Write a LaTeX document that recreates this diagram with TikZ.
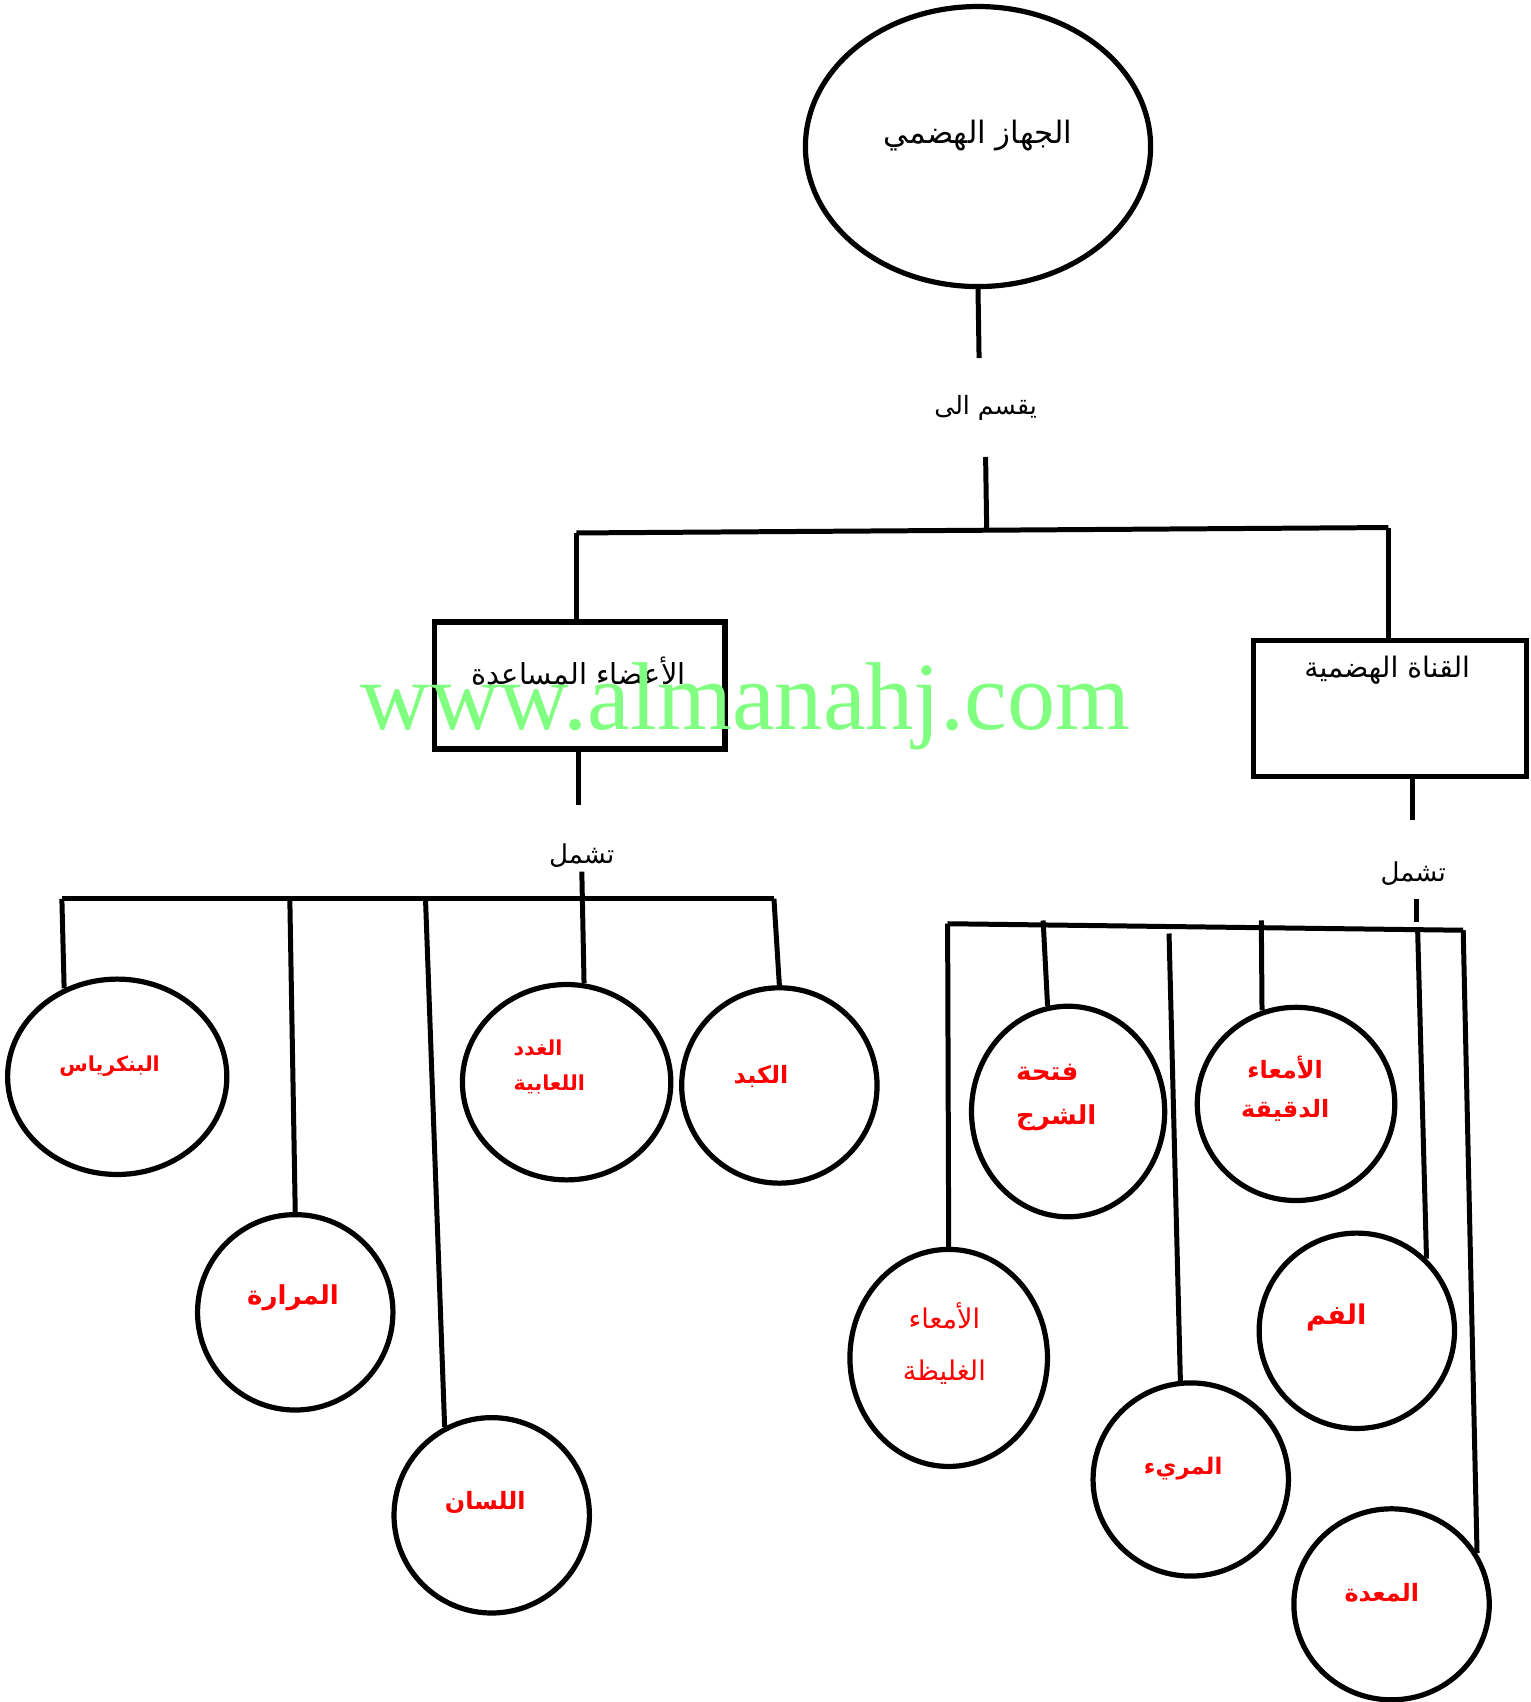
\documentclass[tikz,border=0pt]{standalone}
\usepackage{fontspec}
\setmainfont{Liberation Serif}
\newfontfamily\arabicfont[Script=Arabic]{DejaVu Sans}
\TeXXeTstate=1
\usetikzlibrary{shapes.geometric}
\definecolor{wmgreen}{RGB}{128,255,128}
\definecolor{lblred}{RGB}{255,0,0}
\newcommand{\artxt}[1]{\beginR #1\endR}
\begin{document}
\begin{tikzpicture}[x=0.5pt,y=-0.5pt,
  conn/.style={line width=2.3pt},
  organ/.style={ellipse, draw, line width=2.4pt, inner sep=0pt},
  boxstyle/.style={rectangle, draw, line width=2.4pt, inner sep=0pt},
  blacktxt/.style={font=\arabicfont\fontsize{12.5}{16}\selectfont, inner sep=0pt},
  redbig/.style={text=lblred, align=center, inner sep=0pt, font=\arabicfont\bfseries\fontsize{12}{20}\selectfont},
  redsmall/.style={text=lblred, align=center, inner sep=0pt, font=\arabicfont\bfseries\fontsize{9.5}{16}\selectfont},
  redreg/.style={text=lblred, align=center, inner sep=0pt, font=\arabicfont\fontsize{12.5}{24}\selectfont}
]
\useasboundingbox (0,0) rectangle (1410,1568);

% root
\node[organ, minimum width=159pt, minimum height=129pt] (root) at (901,135) {};
\node[blacktxt, font=\arabicfont\fontsize{14.2}{16}\selectfont] (roott) at (901,125) {\artxt{الجهاز الهضمي}};
\coordinate (r1) at (902,330);
\draw[conn] (root.south) -- (r1);
\node[blacktxt, font=\arabicfont\fontsize{11.6}{16}\selectfont] (div) at (908,376) {\artxt{يقسم الى}};
\coordinate (r2) at (908,421);
\coordinate (r3) at (909,487);
\draw[conn] (r2) -- (r3);
\coordinate (bl) at (531,491);
\coordinate (br) at (1279,486);
\draw[conn] (bl) -- (br);

% boxes
\node[boxstyle, minimum width=134pt, minimum height=58.5pt] (acc) at (534,631.5) {};
\node[blacktxt, font=\arabicfont\fontsize{13.3}{16}\selectfont] (acct) at (533,618) {\artxt{الأعضاء المساعدة}};
\node[boxstyle, minimum width=125.5pt, minimum height=62.5pt] (can) at (1280.5,652.5) {};
\node[blacktxt, font=\arabicfont\fontsize{13}{16}\selectfont] (cant) at (1278,617) {\artxt{القناة الهضمية}};
\draw[conn] (bl) -- (acc.north -| bl);
\draw[conn] (br) -- (can.north -| br);

% left branch
\coordinate (a1) at (533,742);
\draw[conn] (acc.south -| a1) -- (a1);
\node[blacktxt, font=\arabicfont\fontsize{12}{16}\selectfont] (inc1) at (536,788) {\artxt{تشمل}};
\coordinate (la) at (57,828);
\coordinate (lb) at (267,828);
\coordinate (lc) at (392,828);
\coordinate (ld) at (536,803);
\coordinate (le) at (713,828);
\draw[conn] (la) -- (le);

\node[organ, minimum width=101pt, minimum height=90pt] (pan) at (108,992) {};
\node[organ, minimum width=90pt, minimum height=90pt] (mar) at (272,1209) {};
\node[organ, minimum width=90pt, minimum height=90pt] (lis) at (453,1396) {};
\node[organ, minimum width=96pt, minimum height=90pt] (ghd) at (522,997) {};
\node[organ, minimum width=90pt, minimum height=90pt] (kbd) at (718,1000) {};

\draw[conn] (la) -- (pan.121);
\draw[conn] (lb) -- (mar.north);
\draw[conn] (lc) -- (lis.118);
\draw[conn] (ld) -- (ghd.80);
\draw[conn] (le) -- (kbd.north);

\node[redsmall] (pant) at (101,982) {\artxt{البنكرياس}};
\node[redbig] (mart) at (270,1196) {\artxt{المرارة}};
\node[redbig, font=\arabicfont\bfseries\fontsize{11}{20}\selectfont] (list) at (447,1384) {\artxt{اللسان}};
\node[redsmall, align=left] (ghdt) at (506,983) {\artxt{الغدد}\\\artxt{اللعابية}};
\node[redbig, font=\arabicfont\bfseries\fontsize{11}{20}\selectfont] (kbdt) at (701,992) {\artxt{الكبد}};

% right branch
\coordinate (b1) at (1301,755);
\draw[conn] (can.south -| b1) -- (b1);
\node[blacktxt, font=\arabicfont\fontsize{12}{16}\selectfont] (inc2) at (1302,805) {\artxt{تشمل}};
\coordinate (s1) at (1305,828);
\coordinate (s2) at (1305,849);
\draw[conn] (s1) -- (s2);
\coordinate (ra) at (873,851);
\coordinate (rf) at (1348,857);
\draw[conn] (ra) -- (rf);
\coordinate (rb) at (961,848);
\coordinate (rc) at (1077,860);
\coordinate (rd) at (1162,848);
\coordinate (re) at (1306,856);

\node[organ, minimum width=89pt, minimum height=97pt] (anus) at (984,1024) {};
\node[organ, minimum width=91pt, minimum height=89pt] (small) at (1194,1017) {};
\node[organ, minimum width=91pt, minimum height=100pt] (large) at (874,1251) {};
\node[organ, minimum width=90pt, minimum height=90pt] (mouth) at (1250,1226) {};
\node[organ, minimum width=90pt, minimum height=89pt] (eso) at (1097,1363) {};
\node[organ, minimum width=90pt, minimum height=88pt] (stom) at (1282,1478) {};

\draw[conn] (ra) -- (large.north);
\draw[conn] (rb) -- (anus.101);
\draw[conn] (rc) -- (eso.96);
\draw[conn] (rd) -- (small.110);
\draw[conn] (re) -- (mouth.46);
\draw[conn] (rf) -- (stom.31);

\node[redbig, align=left] (anust) at (973,1011) {\artxt{فتحة}\\\artxt{الشرج}};
\node[redbig, font=\arabicfont\bfseries\fontsize{11}{18}\selectfont] (smallt) at (1184,1003) {\artxt{الأمعاء}\\\artxt{الدقيقة}};
\node[redreg] (larget) at (870,1238) {\artxt{الأمعاء}\\\artxt{الغليظة}};
\node[redbig, font=\arabicfont\bfseries\fontsize{12.5}{18}\selectfont] (moutht) at (1231,1214) {\artxt{الفم}};
\node[redsmall, font=\arabicfont\bfseries\fontsize{10.5}{16}\selectfont] (esot) at (1090,1353) {\artxt{المريء}};
\node[redbig, font=\arabicfont\bfseries\fontsize{11}{18}\selectfont] (stomt) at (1273,1467) {\artxt{المعدة}};

% watermark
\node[text=wmgreen, font=\fontsize{44.4}{50}\selectfont, inner sep=0pt] (wm) at (687,651) {www.almanahj.com};
\end{tikzpicture}
\end{document}
